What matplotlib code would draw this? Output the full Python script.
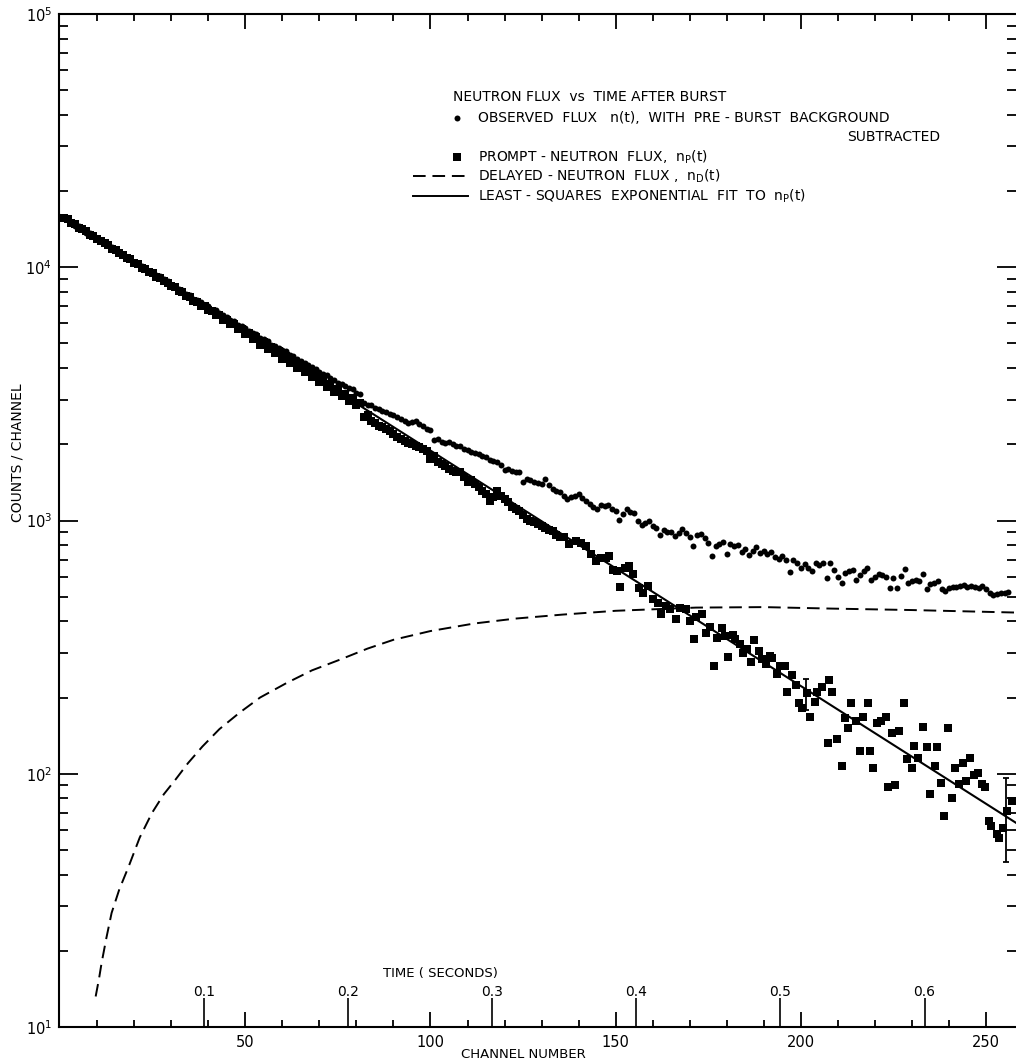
import numpy as np
import matplotlib
matplotlib.use("Agg")
import matplotlib.pyplot as plt
from matplotlib.ticker import FixedLocator, NullFormatter, LogLocator
from matplotlib.lines import Line2D

plt.rcParams['font.family'] = ['DejaVu Sans']

# observed flux n(t), one value per channel
obs_channel = list(range(1, 257))
obs_counts = [
    15800, 15300, 15100, 14600, 14500, 14200, 13700, 13600, 13300, 12900,
    12800, 12500, 12300, 12000, 11800, 11400, 11300, 11000, 10900, 10500,
    10400, 10100, 9950, 9700, 9600, 9300, 9200, 8950, 8800, 8500,
    8450, 8200, 8100, 7850, 7800, 7500, 7450, 7300, 7100, 7050,
    6800, 6750, 6600, 6500, 6350, 6200, 6150, 5900, 5850, 5750,
    5600, 5500, 5450, 5250, 5200, 5100, 4950, 4900, 4800, 4700,
    4650, 4500, 4450, 4350, 4250, 4200, 4100, 4050, 3950, 3850,
    3800, 3750, 3650, 3600, 3500, 3450, 3400, 3350, 3300, 3200,
    3150, 2900, 2850, 2866, 2780, 2754, 2700, 2673, 2640, 2616,
    2553, 2520, 2480, 2417, 2440, 2462, 2400, 2367, 2300, 2275,
    2078, 2097, 2050, 2016, 2040, 2003, 1960, 1972, 1914, 1890,
    1857, 1850, 1828, 1800, 1774, 1740, 1710, 1695, 1650, 1581,
    1600, 1572, 1560, 1548, 1413, 1457, 1440, 1413, 1400, 1392,
    1457, 1380, 1330, 1310, 1290, 1252, 1214, 1233, 1250, 1270,
    1225, 1190, 1160, 1130, 1108, 1153, 1140, 1153, 1110, 1091,
    1003, 1060, 1108, 1080, 1075, 997, 958, 980, 991, 950,
    938, 877, 915, 900, 904, 867, 890, 924, 896, 862,
    794, 877, 883, 850, 818, 725, 794, 810, 826, 740,
    811, 790, 801, 754, 770, 731, 760, 787, 747, 760,
    740, 754, 720, 705, 725, 700, 627, 697, 680, 652,
    672, 650, 629, 682, 670, 682, 595, 682, 640, 600,
    569, 623, 630, 636, 581, 610, 632, 652, 581, 600,
    617, 610, 600, 540, 595, 540, 604, 642, 569, 575,
    581, 577, 613, 535, 560, 569, 577, 535, 527, 540,
    545, 547, 551, 555, 547, 551, 545, 543, 551, 535,
    519, 508, 511, 515, 519, 524,
]

# prompt-neutron flux n_P(t)
prompt_channel = list(range(1, 136)) + [
    136.1, 137.4, 139.2, 140.6, 141.9, 143.3, 144.7, 146.0, 147.4, 148.3,
    149.2, 150.5, 151.2, 152.4, 153.7, 154.6, 156.4, 157.3, 158.7, 160.1,
    161.4, 162.3, 163.7, 164.6, 166.4, 167.3, 168.9, 170.0, 171.1, 171.8,
    173.2, 174.4, 175.4, 176.5, 177.5, 178.6, 179.5, 180.4, 181.6, 182.2,
    183.6, 184.3, 185.4, 186.6, 187.4, 188.7, 189.5, 190.7, 191.8, 192.2,
    193.7, 194.5, 195.8, 196.2, 197.7, 198.7, 199.4, 200.4, 201.7, 202.4,
    203.8, 204.4, 205.8, 207.3, 207.6, 208.5, 209.8, 211.0, 211.8, 212.7,
    213.6, 214.8, 216.0, 216.8, 218.1, 218.7, 219.6, 220.6, 221.6, 222.9,
    223.6, 224.7, 225.5, 226.4, 227.8, 228.7, 229.9, 230.6, 231.7, 233.1,
    234.1, 234.9, 236.1, 236.8, 237.8, 238.7, 239.8, 240.9, 241.7, 242.8,
    243.8, 244.6, 245.8, 246.8, 247.9, 249.0, 249.8, 250.8, 251.4, 252.9,
    253.5, 254.7, 255.6, 257.0,
]
prompt_counts = [
    15650, 15450, 14950, 14800, 14350, 14100, 13900, 13450, 13250, 12950,
    12650, 12450, 12250, 11850, 11700, 11350, 11200, 10850, 10750, 10400,
    10300, 9950, 9850, 9550, 9450, 9150, 9100, 8800, 8700, 8400,
    8350, 8050, 8000, 7700, 7650, 7350, 7300, 7050, 7050, 6750,
    6700, 6500, 6450, 6200, 6200, 5950, 5950, 5700, 5700, 5450,
    5500, 5200, 5300, 4950, 5050, 4750, 4850, 4580, 4650, 4350,
    4450, 4200, 4280, 4000, 4100, 3850, 3950, 3680, 3780, 3520,
    3620, 3380, 3460, 3230, 3320, 3100, 3170, 2960, 3050, 2850,
    2900, 2553, 2600, 2462, 2420, 2367, 2330, 2296, 2262, 2200,
    2128, 2100, 2065, 2030, 2003, 1970, 1943, 1910, 1885, 1747,
    1800, 1695, 1670, 1644, 1600, 1570, 1560, 1548, 1480, 1413,
    1440, 1392, 1350, 1310, 1270, 1196, 1240, 1310, 1250, 1214,
    1180, 1126, 1110, 1091, 1050, 1012, 997, 985, 967, 950,
    938, 920, 910, 880, 857,
    857, 806, 831, 818, 794, 736, 692, 714, 714, 725,
    636, 632, 547, 652, 662, 613, 543, 519, 551, 489,
    474, 426, 460, 446, 407, 453, 446, 401, 340, 414,
    429, 358, 380, 266, 343, 375, 350, 289, 353, 340,
    325, 301, 310, 277, 337, 305, 283, 272, 292, 287,
    248, 266, 266, 211, 245, 224, 191, 182, 209, 168,
    192, 211, 221, 132, 234, 211, 137, 107, 166, 151,
    190, 162, 123, 168, 190, 123, 105, 158, 162, 168,
    89, 145, 90, 148, 190, 114, 105, 129, 115, 153,
    128, 83, 107, 128, 92, 68, 151, 80, 105, 91,
    110, 94, 115, 99, 101, 91, 89, 65, 62, 58,
    56, 61, 71, 78,
]

# delayed-neutron flux n_D(t)
delayed_channel = [9.6, 10.5, 11.2, 12.5, 13.9, 16, 18.5, 21.5, 24.8, 28,
                   31.2, 34.5, 38.4, 43, 48.4, 54, 61.1, 68, 75.5, 83,
                   90, 100, 111.8, 123, 135.6, 150, 171.7, 190, 208, 230, 258.1]
delayed_counts = [13.2, 15.5, 17.9, 22.5, 28.2, 35, 43, 56, 70, 83,
                  95, 110, 128, 150, 174, 200, 228, 256, 282, 312,
                  338, 366, 392, 410, 425, 440, 453, 455, 449, 443, 433]

# least-squares exponential fit to n_P(t), end points
fit_channel = [0, 258.1]
fit_counts = [16070, 64]

# error bars on two prompt points
err_channel = [201.5, 255.3]
err_low = [179, 45]
err_high = [237, 96]

time_ticks = [0.1, 0.2, 0.3, 0.4, 0.5, 0.6]
ch_per_sec = 389.0

W, H = 1016, 1064
fig = plt.figure(figsize=(W / 100, H / 100), dpi=100)
x0, x1, y0, y1 = 59, 1016, 14, 1027
ax = fig.add_axes([x0 / W, 1 - y1 / H, (x1 - x0) / W, (y1 - y0) / H])

ax.set_yscale('log')
ax.set_xlim(-0.3, 258.1)
ax.set_ylim(10, 1e5)

dash = (0, (6.5, 3.5))
ax.plot(obs_channel, obs_counts, 'o', color='black', ms=4.3, mew=0)
ax.plot(prompt_channel, prompt_counts, 's', color='black', ms=5.3, mew=0)
ax.plot(delayed_channel, delayed_counts, color='black', lw=1.4, linestyle=dash)
ax.plot(fit_channel, fit_counts, color='black', lw=1.5)
mid = np.sqrt(np.array(err_low) * np.array(err_high))
ax.errorbar(err_channel, mid,
            yerr=[mid - np.array(err_low), np.array(err_high) - mid],
            fmt='none', ecolor='black', elinewidth=1.3, capsize=2.5, capthick=1.3)

for s in ax.spines.values():
    s.set_linewidth(1.5)
ax.spines['right'].set_visible(False)

ax.xaxis.set_major_locator(FixedLocator([50, 100, 150, 200, 250]))
ax.xaxis.set_minor_locator(FixedLocator(np.arange(10, 260, 10)))
ax.yaxis.set_major_locator(LogLocator(base=10, numticks=10))
ax.yaxis.set_minor_locator(LogLocator(base=10, subs=np.arange(2, 10), numticks=20))
ax.yaxis.set_minor_formatter(NullFormatter())
ax.tick_params(axis='x', which='major', direction='in', length=10.8, width=1.3,
               top=True, labelsize=10.5, pad=6)
ax.tick_params(axis='x', which='minor', direction='in', length=5, width=1.3, top=True)
ax.tick_params(axis='y', which='major', direction='in', length=14, width=1.3,
               right=True, labelsize=10.5, pad=5)
ax.tick_params(axis='y', which='minor', direction='in', length=6.5, width=1.3, right=True)

# time axis drawn inside the bottom edge
tax = ax.secondary_xaxis('bottom', functions=(lambda c: c / ch_per_sec,
                                              lambda t: t * ch_per_sec))
tax.set_xticks(time_ticks)
tax.set_xticklabels(['0.1', '0.2', '0.3', '0.4', '0.5', '0.6'])
tax.tick_params(direction='in', length=21, width=1.2, labelsize=10, pad=-30)
tax.spines['bottom'].set_visible(False)

fig.text(523 / W, 1 - 1055 / H, 'CHANNEL NUMBER', ha='center', va='center', fontsize=9.5)
fig.text(440 / W, 1 - 974 / H, 'TIME ( SECONDS)', ha='center', va='center', fontsize=9.5)
fig.text(18 / W, 1 - 453 / H, 'COUNTS / CHANNEL', ha='center', va='center',
         fontsize=10, rotation=90)

# legend, laid out by hand
fs = 10
tx = 478 / W
fig.text(453 / W, 1 - 97 / H, 'NEUTRON FLUX  vs  TIME AFTER BURST', fontsize=fs, va='center')
fig.text(tx, 1 - 118 / H, 'OBSERVED  FLUX   n(t),  WITH  PRE - BURST  BACKGROUND',
         fontsize=fs, va='center')
fig.text(940 / W, 1 - 137 / H, 'SUBTRACTED', fontsize=fs, va='center', ha='right')
fig.text(tx, 1 - 157 / H, r'PROMPT - NEUTRON  FLUX,  n$_\mathregular{P}$(t)',
         fontsize=fs, va='center')
fig.text(tx, 1 - 176 / H, r'DELAYED - NEUTRON  FLUX ,  n$_\mathregular{D}$(t)',
         fontsize=fs, va='center')
fig.text(tx, 1 - 196 / H, r'LEAST - SQUARES  EXPONENTIAL  FIT  TO  n$_\mathregular{P}$(t)',
         fontsize=fs, va='center')
fig.add_artist(Line2D([457 / W], [1 - 118 / H], marker='o', color='black', ms=4.3, mew=0))
fig.add_artist(Line2D([457 / W], [1 - 157 / H], marker='s', color='black', ms=5.3, mew=0))
fig.add_artist(Line2D([413 / W, 468 / W], [1 - 176 / H] * 2, color='black', lw=1.4,
                      linestyle=dash))
fig.add_artist(Line2D([413 / W, 468 / W], [1 - 196 / H] * 2, color='black', lw=1.4))

fig.savefig('out.png', dpi=100)
